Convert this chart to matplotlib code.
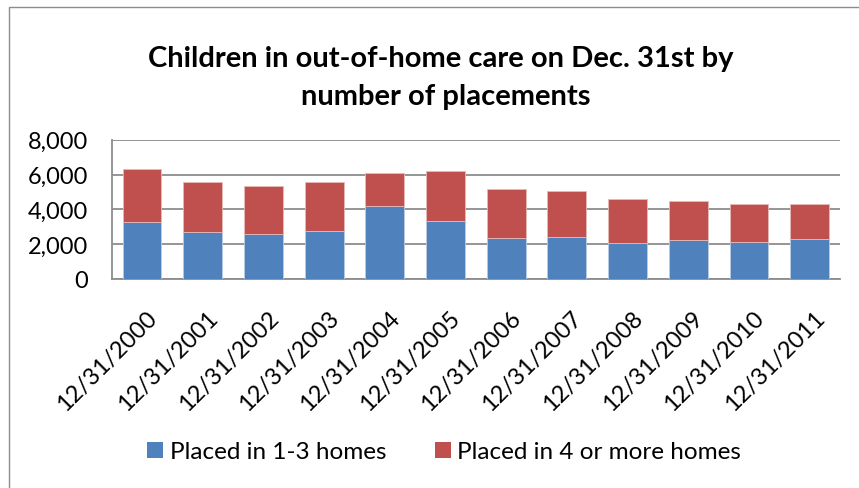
import matplotlib
matplotlib.use("Agg")
import matplotlib.pyplot as plt
from matplotlib.patches import Rectangle, Patch
from matplotlib.transforms import ScaledTranslation

categories = ["12/31/2000", "12/31/2001", "12/31/2002", "12/31/2003", "12/31/2004",
              "12/31/2005", "12/31/2006", "12/31/2007", "12/31/2008", "12/31/2009",
              "12/31/2010", "12/31/2011"]
placed_1_3 = [3250, 2680, 2600, 2780, 4170, 3350, 2330, 2440, 2060, 2230, 2100, 2310]
placed_4_plus = [3050, 2910, 2760, 2770, 1930, 2870, 2850, 2590, 2550, 2230, 2190, 2000]
y_ticks = [0, 2000, 4000, 6000, 8000]
series_names = ["Placed in 1-3 homes", "Placed in 4 or more homes"]
title_lines = ["Children in out-of-home care on Dec. 31st by", "number of placements"]

BLUE = "#4F81BD"
RED = "#C0504D"
GRID = "#8C8C8C"

plt.rcParams['font.family'] = ['Lato', 'DejaVu Sans']

W, H = 859, 489
fig = plt.figure(figsize=(W / 100, H / 100), dpi=100)

# chart frame
fig.patches.append(Rectangle((9 / W, -0.1), 1.2, (1 - 8 / H) + 0.1, transform=fig.transFigure,
                             fill=False, edgecolor="#8C8C8C", linewidth=1.0))

ax = fig.add_axes([111.7 / W, 1 - 280 / H, (840 - 111.7) / W, (280 - 140.7) / H])
x = list(range(len(categories)))
ax.bar(x, placed_1_3, width=0.64, color=BLUE, edgecolor="#B8CCE4", linewidth=0.6, zorder=3)
ax.bar(x, placed_4_plus, bottom=placed_1_3, width=0.64, color=RED, edgecolor="#E6B9B8",
       linewidth=0.6, zorder=3)

ax.set_xlim(-0.5, len(categories) - 0.5)
ax.set_ylim(0, 8000)
ax.set_yticks(y_ticks)
ax.set_yticklabels([f"{v:,}" for v in y_ticks])
ax.yaxis.grid(True, color=GRID, linewidth=1.3, zorder=0)
ax.set_axisbelow(True)
for s in ["top", "right"]:
    ax.spines[s].set_visible(False)
for s in ["left", "bottom"]:
    ax.spines[s].set_color(GRID)
    ax.spines[s].set_linewidth(1.3)
ax.tick_params(axis="y", length=0, pad=17, labelsize=17)
ax.tick_params(axis="x", length=0, pad=20, labelsize=17)
ax.set_xticks(x)
ax.set_xticklabels(categories, rotation=45, ha="right", va="top", rotation_mode="anchor")
shift = ScaledTranslation(4 / 100, 0, fig.dpi_scale_trans)
for lbl in ax.get_xticklabels():
    lbl.set_transform(lbl.get_transform() + shift)

fig.text(441 / W, 1 - 66.5 / H, title_lines[0], ha="center", va="baseline", fontsize=21,
         fontweight="bold")
fig.text(446 / W, 1 - 105 / H, title_lines[1], ha="center", va="baseline", fontsize=21,
         fontweight="bold")

handles = [Patch(facecolor=BLUE, edgecolor="none"), Patch(facecolor=RED, edgecolor="none")]
fig.legend(handles, series_names, loc="center", bbox_to_anchor=(444 / W, 1 - 453 / H),
           ncol=2, frameon=False, fontsize=17.5, handlelength=0.66, handleheight=0.66,
           handletextpad=0.25, columnspacing=2.0, borderpad=0, borderaxespad=0)

fig.savefig("out.png", dpi=100)
